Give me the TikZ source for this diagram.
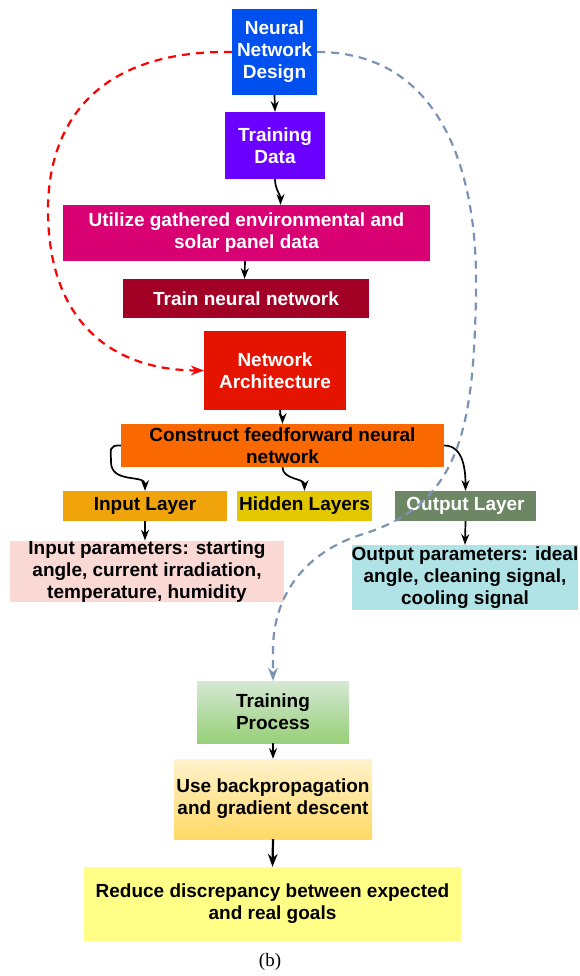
\documentclass[tikz,border=0pt]{standalone}
\usepackage{fontspec}
\setmainfont{Liberation Sans}
\newfontfamily\capserif{Liberation Serif}
\usetikzlibrary{arrows.meta}
\definecolor{nndblue}{HTML}{0050EF}\definecolor{tdpurple}{HTML}{6A00FF}
\definecolor{utilmag}{HTML}{D80073}\definecolor{trainred}{HTML}{A20025}
\definecolor{archred}{HTML}{E51400}\definecolor{ffnorange}{HTML}{FA6800}
\definecolor{inamber}{HTML}{F0A30A}\definecolor{hidyellow}{HTML}{E3C800}
\definecolor{outolive}{HTML}{6D8764}\definecolor{inpink}{HTML}{FAD9D5}
\definecolor{outcyan}{HTML}{B0E3E6}\definecolor{dashgray}{HTML}{7C93B5}
\definecolor{tptop}{HTML}{D5E8D4}\definecolor{tpbot}{HTML}{97D077}
\definecolor{bptop}{HTML}{FFF2CC}\definecolor{bpbot}{HTML}{FFD966}
\definecolor{goalyellow}{HTML}{FFFF88}

\begin{document}
\begin{tikzpicture}[>=Stealth,x=1pt,y=-1pt,
  box/.style={inner sep=0pt,align=center,font=\bfseries\fontsize{19}{22}\selectfont},
  link/.style={->,line width=1.7pt},
  loopdash/.style={->,line width=2.2pt,dash pattern=on 8pt off 6pt}]
\useasboundingbox (0,0) rectangle (579,976);
% top chain
\node[box,fill=nndblue,text=white,minimum width=85pt,minimum height=86pt] (nnd) at(274.5,52){Neural\\Network\\Design};
\node[box,fill=tdpurple,text=white,minimum width=100pt,minimum height=67pt] (td) at(275,145.5){Training\\Data};
\node[box,fill=utilmag,text=white,minimum width=367pt,minimum height=56pt] (util) at(246.5,233){Utilize gathered environmental and\\solar panel data};
\node[box,fill=trainred,text=white,minimum width=246pt,minimum height=39pt] (train) at(246,298.5){Train neural network};
\node[box,fill=archred,text=white,minimum width=142pt,minimum height=79pt] (arch) at(275,370.5){Network\\Architecture};
\node[box,fill=ffnorange,minimum width=323pt,minimum height=43pt] (ffn) at(282.5,445.5){Construct feedforward neural\\network};
% layers
\node[box,fill=inamber,minimum width=164pt,minimum height=30pt] (inl) at(145,506){Input Layer};
\node[box,fill=hidyellow,minimum width=135pt,minimum height=30pt] (hid) at(304.5,506){Hidden Layers};
\node[box,fill=outolive,text=white,minimum width=141pt,minimum height=30pt] (outl) at(465.5,506){Output Layer};
\node[box,fill=inpink,minimum width=274pt,minimum height=61pt] (inpar) at(147,571.5){Input parameters: starting\\angle, current irradiation,\\temperature, humidity};
\node[box,fill=outcyan,minimum width=224pt,minimum height=65pt] (outpar) at(465,577.5){Output parameters: ideal\\angle, cleaning signal,\\cooling signal};
% training
\node[box,top color=tptop,bottom color=tpbot,minimum width=152pt,minimum height=62pt] (tp) at(273,712){Training\\Process};
\node[box,top color=bptop,bottom color=bpbot,minimum width=198pt,minimum height=80pt] (bp) at(273,799){Use backpropagation\\and gradient descent};
\node[box,fill=goalyellow,minimum width=377pt,minimum height=74pt] (goal) at(272.5,904){Reduce discrepancy between expected\\and real goals};
\node[font=\capserif\fontsize{19}{22}\selectfont] (cap) at(270,962){(b)};
% connectors
\draw[link] (nnd.south)--(td.north);
\draw[link] (td.south) to[out=-90,in=90] ([xshift=34pt]util.north);
\draw[link] ([xshift=-1.5pt]util.south)--([xshift=-1.5pt]train.north);
\draw[link] ([xshift=5pt]arch.south) to[out=-90,in=90] (ffn.north);
\draw[link] (ffn.west) .. controls (108,445) and (111,450) .. (111,462) .. controls (111,484) and (145,474) .. (inl.north);
\draw[link] (ffn.south) to[out=-90,in=90] (hid.north);
\draw[link] (ffn.east) to[out=0,in=90] (outl.north);
\draw[link] (inl.south)--(inl.south |- inpar.north);
\draw[link] (outl.south)--(outpar.north);
\draw[link] (tp.south)--(bp.north);
\draw[->,line width=2.2pt] (bp.south)--(goal.north);
\draw[loopdash,red] (nnd.west) .. controls (90,50) and (48,130) .. (48,210) .. controls (48,320) and (110,370) .. (arch.west);
\draw[loopdash,dashgray] (nnd.east) .. controls (440,52) and (478,170) .. (476,290) .. controls (474,430) and (460,505) .. (360,535) .. controls (300,555) and (273,600) .. (273,650) -- (tp.north);
\end{tikzpicture}
\end{document}
